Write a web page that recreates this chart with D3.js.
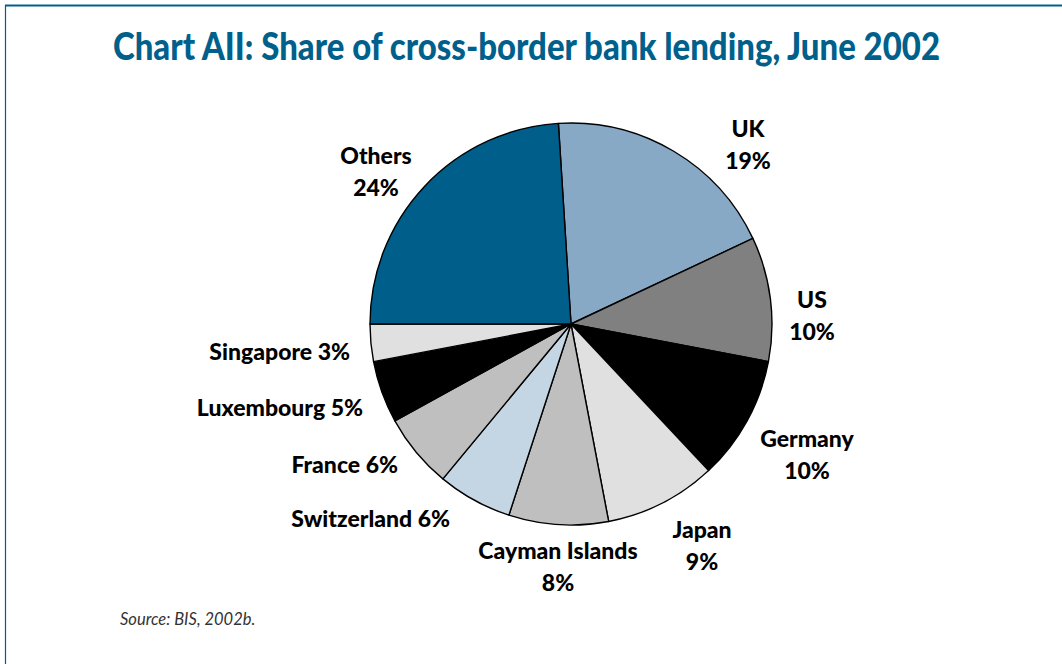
<!DOCTYPE html>
<html>
<head>
<meta charset="utf-8">
<script src="https://cdn.jsdelivr.net/npm/d3@7/dist/d3.min.js"></script>
<style>
  html, body { margin: 0; padding: 0; background: #fff; }
  svg { display: block; }
</style>
</head>
<body>
<svg id="chart" width="1062" height="664"></svg>
<script>
// Cross-border bank lending shares, June 2002 (per cent)
const countries = ["UK", "US", "Germany", "Japan", "Cayman Islands", "Switzerland", "France", "Luxembourg", "Singapore", "Others"];
const shares    = [19, 10, 10, 9, 8, 6, 6, 5, 3, 24];
const fills     = ["#87a9c6", "#808080", "#000000", "#e0e0e0", "#bfbfbf", "#c4d5e3", "#bfbfbf", "#000000", "#e0e0e0", "#005f8a"];

// Label placement relative to the pie centre: [dx, dy (first baseline), anchor, lines]
const labelLayout = {
  "UK":             [177, -187, "middle", 2],
  "US":             [241, -16,  "middle", 2],
  "Germany":        [236, 123,  "middle", 2],
  "Japan":          [131, 214,  "middle", 2],
  "Cayman Islands": [-13, 235,  "middle", 2],
  "Switzerland":    [-121, 203, "end", 1],
  "France":         [-173, 149, "end", 1],
  "Luxembourg":     [-208, 92,  "end", 1],
  "Singapore":      [-221, 36,  "end", 1],
  "Others":         [-195, -160, "middle", 2]
};

const data = countries.map((c, i) => ({ name: c, value: shares[i], fill: fills[i] }));

const svg = d3.select("#chart");
const W = 1062, H = 664;

// frame
svg.append("line").attr("x1", 5).attr("x2", W).attr("y1", 5.5).attr("y2", 5.5)
  .attr("stroke", "#00608c").attr("stroke-width", 2.2);
svg.append("line").attr("x1", 5.5).attr("x2", 5.5).attr("y1", 5).attr("y2", H)
  .attr("stroke", "#00608c").attr("stroke-width", 1.2);

// title
svg.append("text")
  .attr("x", 113).attr("y", 60)
  .attr("textLength", 827)
  .attr("lengthAdjust", "spacingAndGlyphs")
  .attr("font-family", "Lato, 'Open Sans', sans-serif")
  .attr("font-weight", 900)
  .attr("font-size", 37)
  .attr("fill", "#00608c")
  .text("Chart AII: Share of cross-border bank lending, June 2002");

const cx = 571, cy = 324, R = 201;
const startA = -2 * Math.PI * 0.01; // UK begins just left of twelve o'clock

const pie = d3.pie().value(d => d.value).sort(null)
  .startAngle(startA).endAngle(startA + 2 * Math.PI);
const arc = d3.arc().innerRadius(0).outerRadius(R);

const g = svg.append("g").attr("transform", `translate(${cx},${cy})`);
g.selectAll("path.slice")
  .data(pie(data))
  .join("path")
  .attr("class", "slice")
  .attr("d", arc)
  .attr("fill", d => d.data.fill)
  .attr("stroke", "#000")
  .attr("stroke-width", 1.4)
  .attr("stroke-linejoin", "round");

// labels
const lab = g.selectAll("text.lab")
  .data(data)
  .join("text")
  .attr("class", "lab")
  .attr("font-family", "Lato, 'Open Sans', sans-serif")
  .attr("font-weight", 900)
  .attr("font-size", 23)
  .attr("fill", "#000")
  .attr("text-anchor", d => labelLayout[d.name][2])
  .attr("transform", d => `translate(${labelLayout[d.name][0]},${labelLayout[d.name][1]})`);

lab.each(function(d) {
  const t = d3.select(this);
  const pct = d.value + "%";
  if (labelLayout[d.name][3] === 2) {
    t.append("tspan").attr("x", 0).attr("dy", 0).text(d.name);
    t.append("tspan").attr("x", 0).attr("dy", 32).text(pct);
  } else {
    t.append("tspan").attr("x", 0).attr("dy", 0).text(d.name + " " + pct);
  }
});

// source
svg.append("text")
  .attr("x", 120).attr("y", 625)
  .attr("font-family", "Lato, 'Open Sans', sans-serif")
  .attr("font-style", "italic")
  .attr("font-weight", 400)
  .attr("font-size", 16.5)
  .attr("fill", "#333")
  .text("Source: BIS, 2002b.");
</script>
</body>
</html>
